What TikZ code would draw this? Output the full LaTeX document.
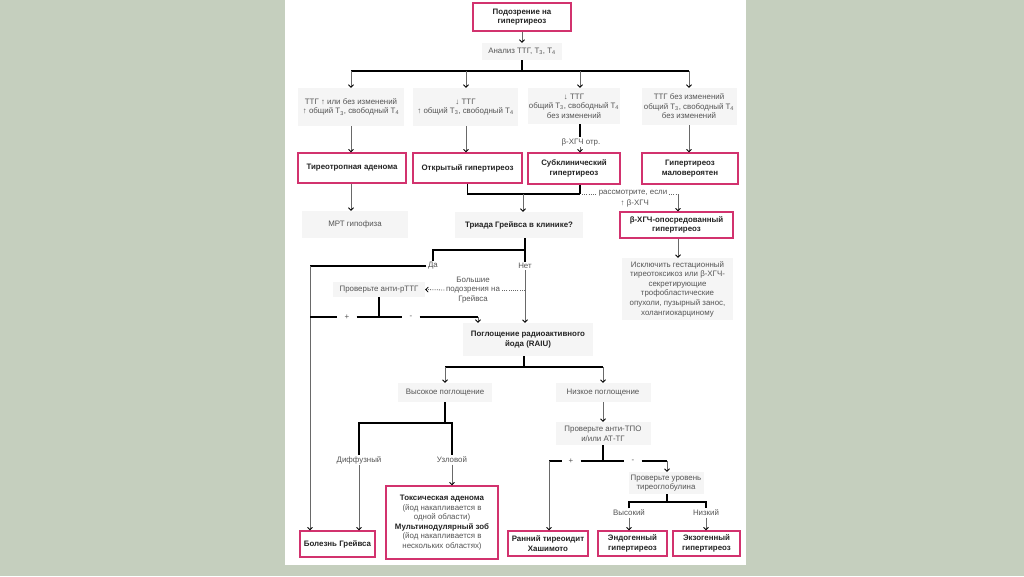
\documentclass[tikz,border=0pt]{standalone}
\usepackage{fontspec}
\setmainfont{Liberation Sans}
\usetikzlibrary{arrows.meta}
\definecolor{bgc}{RGB}{197,207,190}
\definecolor{pinkc}{RGB}{210,50,110}
\definecolor{grayf}{RGB}{245,245,245}
\definecolor{txtg}{RGB}{85,85,85}
\definecolor{txtd}{RGB}{35,35,35}
\definecolor{lineg}{RGB}{105,105,105}
\newcommand\fsz{\fontsize{7.9}{9.6}\selectfont}
\tikzset{
 every node/.style={font=\fsz, inner sep=0pt, align=center},
 pinkbox/.style={draw=pinkc, line width=1.3pt, fill=white, text=txtd, font=\fsz\bfseries},
 toxbox/.style={draw=pinkc, line width=1.3pt, fill=white, text=txtg},
 graybox/.style={fill=grayf, text=txtg},
 graybold/.style={fill=grayf, text=txtd, font=\fsz\bfseries},
 lbl/.style={text=txtg, inner sep=1.5pt},
 pm/.style={text=txtg, inner xsep=7pt, inner ysep=1pt},
 thk/.style={line width=1.6pt, black},
 thn/.style={line width=0.7pt, lineg},
 arr/.style={thn, -{Straight Barb[length=2.5pt,width=5pt,line width=0.8pt,color=black]}},
 dotln/.style={line width=0.8pt, lineg, dash pattern=on 1pt off 1.2pt},
 arrd/.style={dotln, -{Straight Barb[length=2.5pt,width=5pt,line width=0.8pt,color=black]}},
}
\begin{document}
\begin{tikzpicture}[x=1pt,y=-1pt]
\useasboundingbox (0,0) rectangle (1024,576);
\fill[bgc] (0,0) rectangle (1024,576);
\fill[white] (285,0) rectangle (746,565);

% top
\node[pinkbox, minimum width=98pt, minimum height=28pt] (top) at (522,17) {Подозрение на\\гипертиреоз};
\node[graybox, minimum width=80pt, minimum height=17pt] (anal) at (522,51.5) {Анализ ТТГ, T\textsubscript{3}, T\textsubscript{4}};
\draw[arr] (top.south) -- (anal.north);

% row 2
\node[graybox, minimum width=106pt, minimum height=38pt] (r2a) at (351,107) {ТТГ ↑ или без изменений\\↑ общий T\textsubscript{3}, свободный T\textsubscript{4}};
\node[graybox, minimum width=105pt, minimum height=38pt] (r2b) at (465.5,107) {↓ ТТГ\\↑ общий T\textsubscript{3}, свободный T\textsubscript{4}};
\node[graybox, minimum width=92pt, minimum height=36pt] (r2c) at (574,106) {↓ ТТГ\\общий T\textsubscript{3}, свободный T\textsubscript{4}\\без изменений};
\node[graybox, minimum width=95pt, minimum height=37pt] (r2d) at (689,106.5) {ТТГ без изменений\\общий T\textsubscript{3}, свободный T\textsubscript{4}\\без изменений};

\coordinate (ka) at (351,71);
\coordinate (kb) at (466,71);
\coordinate (kc) at (580,71);
\coordinate (kd) at (689,71);
\draw[thk] (anal.south) -- (anal.south |- ka);
\draw[thk] (ka) -- (kd);
\draw[arr] (ka) -- (ka |- r2a.north);
\draw[arr] (kb) -- (kb |- r2b.north);
\draw[arr] (kc) -- (kc |- r2c.north);
\draw[arr] (kd) -- (kd |- r2d.north);

% row 3
\node[pinkbox, minimum width=108pt, minimum height=30pt] (p1) at (352,168) {Тиреотропная аденома};
\node[pinkbox, minimum width=109pt, minimum height=30pt] (p2) at (467.5,168) {Открытый гипертиреоз};
\node[pinkbox, minimum width=92pt, minimum height=31pt] (p3) at (574,168.5) {Субклинический\\гипертиреоз};
\node[pinkbox, minimum width=96pt, minimum height=31pt] (p4) at (690,168.5) {Гипертиреоз\\маловероятен};

\draw[arr] (ka |- r2a.south) -- (ka |- p1.north);
\draw[arr] (kb |- r2b.south) -- (kb |- p2.north);
\node[lbl] (bneg) at (581,142) {β-ХГЧ отр.};
\draw[thk] (kc |- r2c.south) -- (kc |- bneg.north);
\draw[arr] (kc |- bneg.south) -- (kc |- p3.north);
\draw[arr] (kd |- r2d.south) -- (kd |- p4.north);

% MRT
\node[graybox, minimum width=106pt, minimum height=27pt] (mrt) at (355,224.5) {МРТ гипофиза};
\draw[arr] (ka |- p1.south) -- (ka |- mrt.north);

% Triada
\node[graybold, minimum width=128pt, minimum height=26pt] (tri) at (519,225) {Триада Грейвса в клинике?};
\coordinate (j1) at (523,194);
\draw[thk] (p2.south) -- (p2.south |- j1) -- (kc |- j1);
\draw[thk] (kc |- p3.south) -- (kc |- j1);
\draw[arr] (j1) -- (j1 |- tri.north);

% beta-hCG
\node[lbl] (cons) at (633,193) {рассмотрите, если};
\node[lbl, anchor=west] (upb) at (619,203) {↑ β-ХГЧ};
\node[pinkbox, minimum width=113pt, minimum height=26pt] (bh) at (676.5,225) {β-ХГЧ-опосредованный\\гипертиреоз};
\coordinate (kdot) at (678,194);
\draw[dotln] ([xshift=2pt]kc |- j1) -- (cons.west |- j1);
\draw[dotln] (cons.east |- j1) -- (kdot);
\draw[arr] (kdot) -- (kdot |- bh.north);
\node[graybox, minimum width=111pt, minimum height=62pt] (excl) at (677.5,289) {Исключить гестационный\\тиреотоксикоз или β-ХГЧ-\\секретирующие\\трофобластические\\опухоли, пузырный занос,\\холангиокарциному};
\draw[arr] (kdot |- bh.south) -- (kdot |- excl.north);

% Triada branches
\coordinate (kt) at (525,250);
\node[lbl] (da) at (433,266) {Да};
\node[lbl] (net) at (525,266) {Нет};
\draw[thk] (kt |- tri.south) -- (kt) -- (kt -| da) -- (da.north);
\draw[thk] (kt) -- (net.north);

\node[pinkbox, minimum width=75pt, minimum height=26pt] (gd) at (337.5,544) {Болезнь Грейвса};
\coordinate (kL) at (310,266);
\draw[thk] (da.west) -- (kL);
\draw[arr] (kL) -- (kL |- gd.north);

\node[lbl] (susp) at (473,290) {Большие\\подозрения на\\Грейвса};
\node[graybox, minimum width=92pt, minimum height=15pt] (rttg) at (379,289.5) {Проверьте анти-рТТГ};
\draw[dotln] (net |- susp) -- (susp.east);
\draw[arrd] (susp.west) -- (rttg.east);

% RAIU
\node[graybold, minimum width=130pt, minimum height=33pt] (raiu) at (528,339.5) {Поглощение радиоактивного\\йода (RAIU)};
\draw[arr] (net.south) -- (net.south |- raiu.north);

\coordinate (kr) at (380,317);
\coordinate (kr2) at (478,317);
\node[pm] (pl1) at (347,317) {+};
\node[pm] (mi1) at (411,317) {-};
\draw[thk] (rttg.south) -- (rttg.south |- kr);
\draw[thk] (kL |- kr) -- (pl1.west);
\draw[thk] (pl1.east) -- (mi1.west);
\draw[thk] (mi1.east) -- (kr2);
\draw[arr] (kr2) -- (kr2 |- raiu.north);

% uptake
\node[graybox, minimum width=94pt, minimum height=19pt] (hi) at (445,392.5) {Высокое поглощение};
\node[graybox, minimum width=95pt, minimum height=19pt] (lo) at (603,392.5) {Низкое поглощение};
\coordinate (ku) at (524,367);
\draw[thk] (ku |- raiu.south) -- (ku);
\draw[thk] (hi.north |- ku) -- (lo.north |- ku);
\draw[arr] (hi.north |- ku) -- (hi.north);
\draw[arr] (lo.north |- ku) -- (lo.north);

% high branch
\coordinate (kh) at (445,423);
\node[lbl] (dif) at (359,460) {Диффузный};
\node[lbl] (uzl) at (452,460) {Узловой};
\draw[thk] (hi.south) -- (kh);
\draw[thk] (dif.north) -- (dif.north |- kh) -- (uzl.north |- kh) -- (uzl.north);
\node[toxbox, minimum width=112pt, minimum height=73pt] (tox) at (442,522.5) {{\color{txtd}\bfseries Токсическая аденома}\\(йод накапливается в\\одной области)\\{\color{txtd}\bfseries Мультинодулярный зоб}\\(йод накапливается в\\нескольких областях)};
\draw[arr] (dif.south) -- (dif.south |- gd.north);
\draw[arr] (uzl.south) -- (uzl.south |- tox.north);

% low branch
\node[graybox, minimum width=95pt, minimum height=23pt] (tpo) at (603,433.5) {Проверьте анти-ТПО\\и/или АТ-ТГ};
\draw[arr] (lo.south) -- (lo.south |- tpo.north);
\coordinate (kp) at (603,461);
\coordinate (kpl) at (549,461);
\coordinate (kpr) at (667,461);
\node[pm] (pl2) at (571,461) {+};
\node[pm] (mi2) at (633,461) {-};
\draw[thk] (tpo.south) -- (kp);
\draw[thk] (kpl) -- (pl2.west);
\draw[thk] (pl2.east) -- (mi2.west);
\draw[thk] (mi2.east) -- (kpr);

\node[graybox, minimum width=75pt, minimum height=22pt] (tg) at (666,483) {Проверьте уровень\\тиреоглобулина};
\draw[arr] (kpr) -- (kpr |- tg.north);
\node[pinkbox, minimum width=80pt, minimum height=25pt] (hash) at (548,543.5) {Ранний тиреоидит\\Хашимото};
\draw[arr] (kpl) -- (kpl |- hash.north);

\coordinate (kg) at (667,502);
\node[lbl] (vys) at (629,513) {Высокий};
\node[lbl] (niz) at (706,513) {Низкий};
\draw[thk] (tg.south -| kg) -- (kg);
\draw[thk] (vys.north) -- (vys.north |- kg) -- (niz.north |- kg) -- (niz.north);
\node[pinkbox, minimum width=69pt, minimum height=25pt] (endo) at (632.5,543.5) {Эндогенный\\гипертиреоз};
\node[pinkbox, minimum width=67pt, minimum height=25pt] (exo) at (706.5,543.5) {Экзогенный\\гипертиреоз};
\draw[arr] (vys.south) -- (vys.south |- endo.north);
\draw[arr] (niz.south) -- (niz.south |- exo.north);
\end{tikzpicture}
\end{document}
